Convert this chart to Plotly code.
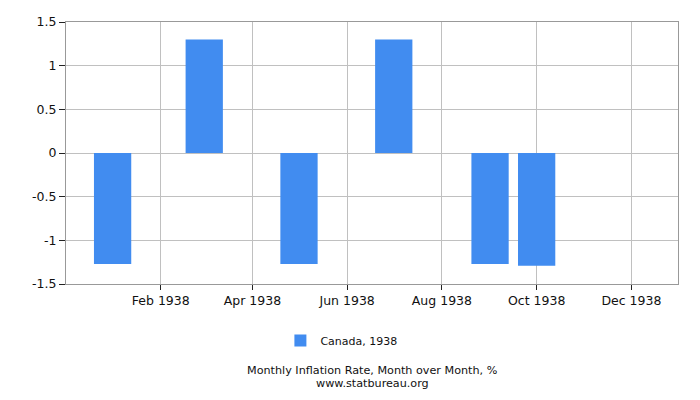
import plotly.graph_objects as go

months = ["1938-01-01", "1938-03-01", "1938-05-01", "1938-07-01", "1938-09-01", "1938-10-01"]
values = [-1.27, 1.30, -1.27, 1.30, -1.27, -1.29]
tick_dates = ["1938-02-01", "1938-04-01", "1938-06-01", "1938-08-01", "1938-10-01", "1938-12-01"]
tick_labels = ["Feb 1938", "Apr 1938", "Jun 1938", "Aug 1938", "Oct 1938", "Dec 1938"]
y_ticks = [-1.5, -1, -0.5, 0, 0.5, 1, 1.5]
y_labels = ["-1.5", "-1", "-0.5", "0", "0.5", "1", "1.5"]

day_ms = 86400000
fig = go.Figure()
fig.add_trace(go.Bar(
    x=months, y=values, name="Canada, 1938",
    marker=dict(color="#418CF0", line=dict(width=0)),
    width=[24 * day_ms] * len(months),
))

font = dict(family="DejaVu Sans", size=12.5, color="#111111")
fig.update_layout(
    width=700, height=400,
    margin=dict(l=66, r=22, t=22, b=116),
    plot_bgcolor="white", paper_bgcolor="white",
    font=font,
    showlegend=True,
    legend=dict(orientation="h", x=0.45, xanchor="center", y=-0.16, yanchor="top",
                font=dict(family="DejaVu Sans", size=11, color="#111111")),
    xaxis=dict(
        type="date", range=["1937-12-02", "1938-12-31"],
        tickvals=tick_dates, ticktext=tick_labels,
        showgrid=True, gridcolor="#C0C0C0", gridwidth=1,
        ticks="outside", ticklen=5, tickcolor="#222222",
        showline=True, linecolor="#999999", mirror=True,
        zeroline=False,
    ),
    yaxis=dict(
        range=[-1.5, 1.5], tickvals=y_ticks, ticktext=y_labels,
        showgrid=True, gridcolor="#C0C0C0", gridwidth=1,
        ticks="outside", ticklen=6, tickcolor="#222222",
        showline=True, linecolor="#999999", mirror=True,
        zeroline=False,
    ),
    annotations=[
        dict(text="Monthly Inflation Rate, Month over Month, %", xref="paper", yref="paper",
             x=0.5, y=-0.330, xanchor="center", yanchor="middle", showarrow=False,
             borderpad=0,
             font=dict(family="DejaVu Sans", size=11.2, color="#111111")),
        dict(text="www.statbureau.org", xref="paper", yref="paper",
             x=0.5, y=-0.378, xanchor="center", yanchor="middle", showarrow=False,
             borderpad=0,
             font=dict(family="DejaVu Sans", size=11.2, color="#111111")),
    ],
)
fig.write_html("out.html", config={"displayModeBar": False},
               post_script="document.body.style.margin='0px';")
